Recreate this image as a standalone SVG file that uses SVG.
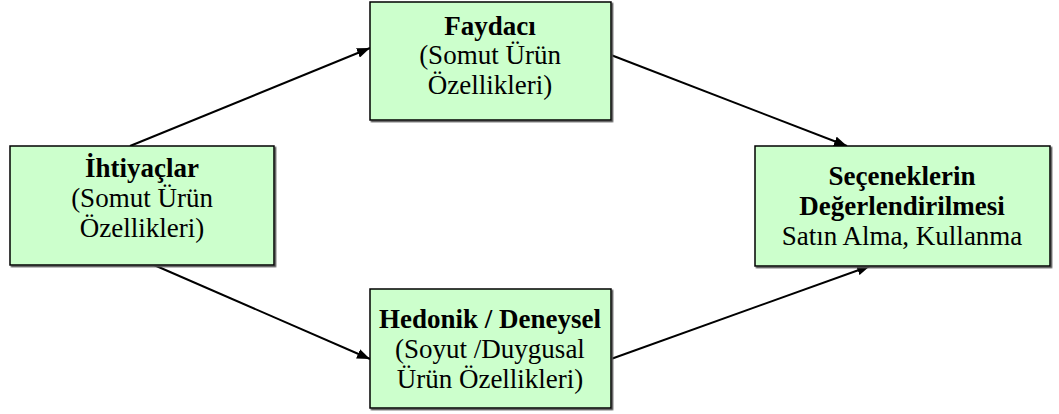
<svg xmlns="http://www.w3.org/2000/svg" width="1059" height="414" viewBox="0 0 1059 414">
<defs>
<marker id="ah" markerWidth="13" markerHeight="10" refX="13" refY="5" orient="auto" markerUnits="userSpaceOnUse" viewBox="0 0 13 10">
<path d="M0,0 L13,5 L0,10 z" fill="#000"/>
</marker>
<filter id="sh" x="-5%" y="-5%" width="110%" height="110%">
<feDropShadow dx="1.5" dy="1.5" stdDeviation="0.3" flood-color="#555" flood-opacity="1"/>
</filter>
</defs>
<style>
.box{fill:#ccffcc;stroke:#000;stroke-width:1.5}
.t{font-family:"Liberation Serif","Times New Roman",serif;font-size:27px;text-anchor:middle;fill:#000}
.b{font-weight:bold}
.c{stroke:#000;stroke-width:2;fill:none;marker-end:url(#ah)}
</style>
<rect width="1059" height="414" fill="#fff"/>
<g id="connectors">
<line class="c" x1="130" y1="146" x2="370" y2="48"/>
<line class="c" x1="154" y1="265" x2="370" y2="359"/>
<line class="c" x1="611" y1="55" x2="847" y2="146"/>
<line class="c" x1="611" y1="359" x2="870" y2="266"/>
</g>
<g id="ihtiyaclar">
<rect class="box" x="10" y="146" width="264" height="119" filter="url(#sh)"/>
<text class="t b" x="142" y="177">İhtiyaçlar</text>
<text class="t" x="142" y="207">(Somut Ürün</text>
<text class="t" x="142" y="237">Özellikleri)</text>
</g>
<g id="faydaci">
<rect class="box" x="370" y="2" width="241" height="118" filter="url(#sh)"/>
<text class="t b" x="490" y="35">Faydacı</text>
<text class="t" x="490" y="64">(Somut Ürün</text>
<text class="t" x="490" y="94">Özellikleri)</text>
</g>
<g id="hedonik">
<rect class="box" x="370" y="289" width="241" height="119" filter="url(#sh)"/>
<text class="t b" x="490" y="328">Hedonik / Deneysel</text>
<text class="t" x="490" y="358">(Soyut /Duygusal</text>
<text class="t" x="490" y="388">Ürün Özellikleri)</text>
</g>
<g id="secenekler">
<rect class="box" x="755" y="146" width="295" height="120" filter="url(#sh)"/>
<text class="t b" x="902" y="185">Seçeneklerin</text>
<text class="t b" x="902" y="215">Değerlendirilmesi</text>
<text class="t" x="902" y="245">Satın Alma, Kullanma</text>
</g>
</svg>
